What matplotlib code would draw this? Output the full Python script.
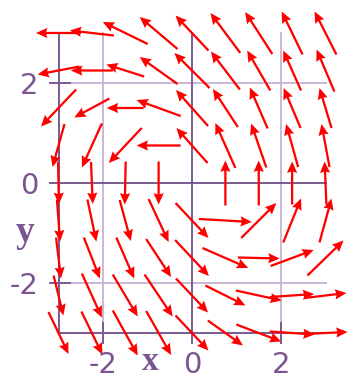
import numpy as np
import matplotlib
matplotlib.use("Agg")
import matplotlib.pyplot as plt

# grid of arrow centres (x left->right, y top->bottom)
xs = [-3, -2.25, -1.5, -0.75, 0, 0.75, 1.5, 2.25, 3]
ys = [3, 2.25, 1.5, 0.75, 0, -0.75, -1.5, -2.25, -3]

# arrow components, one row per y value
U = [
    [-1.01, -0.99, -1.01, -0.85, -0.74, -0.67, -0.61, -0.47, -0.49],
    [-0.94, -0.94, -0.85, -0.85, -0.79, -0.65, -0.52, -0.40, -0.40],
    [-0.79, -0.79, -0.83, -0.99, -0.72, -0.56, -0.40, -0.38, -0.27],
    [-0.27, -0.45, -0.74, -0.99, -0.70, -0.45, -0.34, -0.27, -0.18],
    [0.02, 0.04, -0.02, 0.00, np.nan, 0.00, 0.00, 0.00, -0.04],
    [0.07, 0.20, 0.25, 0.45, 0.74, 1.19, 0.79, 0.40, 0.27],
    [0.11, 0.36, 0.40, 0.56, 0.76, 1.03, 0.94, 0.97, 0.81],
    [0.22, 0.45, 0.56, 0.63, 0.72, 0.90, 1.03, 0.99, 0.94],
    [0.45, 0.47, 0.56, 0.56, 0.74, 0.79, 1.01, 1.01, 0.99],
]
V = [
    [0.00, 0.10, 0.44, 0.64, 0.70, 0.80, 0.84, 0.86, 0.86],
    [-0.16, 0.00, 0.24, 0.54, 0.70, 0.76, 0.80, 0.80, 0.84],
    [-0.74, -0.38, 0.00, 0.32, 0.72, 0.76, 0.82, 0.80, 0.80],
    [-0.86, -0.88, -0.70, 0.00, 0.70, 0.90, 0.88, 0.86, 0.86],
    [-0.84, -0.84, -0.86, -0.86, np.nan, 0.90, 0.90, 0.86, 0.86],
    [-0.84, -0.84, -0.82, -0.86, -0.70, -0.06, 0.70, 0.88, 0.88],
    [-0.82, -0.82, -0.82, -0.76, -0.72, -0.40, -0.02, 0.32, 0.70],
    [-0.80, -0.88, -0.84, -0.84, -0.68, -0.40, -0.20, 0.06, 0.10],
    [-0.84, -0.86, -0.90, -0.88, -0.70, -0.50, -0.34, -0.06, 0.04],
]

tick_vals = [-2, 0, 2]
tick_labels = ["-2", "0", "2"]

dark = "#7b5a93"
light = "#cbb7d6"
txt = "#7a5590"

fig = plt.figure(figsize=(3.49, 3.79), dpi=100)
ax = fig.add_axes([0, 0, 1, 1])
ax.set_xlim(-192 / 44.5, 157 / 44.5)
ax.set_ylim(-196 / 50, 183 / 50)
ax.axis("off")

# light grid lines
for g in (-2, 2):
    ax.plot([g, g], [-3, 3], color=light, lw=1.4, zorder=1)
    ax.plot([-3, 3], [g, g], color=light, lw=1.4, zorder=1)

# frame-ish dark lines and axes
ax.plot([-3, -3], [-3, 3], color=dark, lw=1.4, zorder=2)
ax.plot([-3, 3], [-3, -3], color=dark, lw=1.4, zorder=2)
ax.plot([0, 0], [-3.2, 3], color=dark, lw=1.4, zorder=2)
ax.plot([-3.19, 3], [0, 0], color=dark, lw=1.4, zorder=2)
for t in (-2, 2):
    ax.plot([t, t], [-2.8, -3.2], color=dark, lw=1.4, zorder=2)
    ax.plot([-3.19, -2.74], [t, t], color=dark, lw=1.4, zorder=2)

X, Y = np.meshgrid(xs, ys)
ax.quiver(X, Y, np.array(U), np.array(V), angles="xy", scale_units="xy",
          scale=1, pivot="middle", color="#ff0000", width=0.0065,
          headwidth=4.5, headlength=5, headaxislength=4.5, zorder=3)

digit_font = ["Liberation Sans Narrow", "DejaVu Sans Condensed", "DejaVu Sans"]
for v, lab in zip(tick_vals, tick_labels):
    ax.text(-3.66 if lab != "-2" else -3.78, v - 0.22, lab, ha="center",
            va="baseline", fontsize=21, color=txt, family=digit_font)
    ax.text(v, -3.8, lab, ha="center", va="baseline", fontsize=21,
            color=txt, family=digit_font)

ax.text(-3.75, -1.18, "y", ha="center", va="baseline", fontsize=27,
        fontweight="bold", color=txt, family=["Liberation Serif", "DejaVu Serif"])
ax.text(-0.94, -3.74, "x", ha="center", va="baseline", fontsize=24,
        fontweight="bold", color=txt, family=["Liberation Serif", "DejaVu Serif"])

fig.savefig("out.png", dpi=100)
